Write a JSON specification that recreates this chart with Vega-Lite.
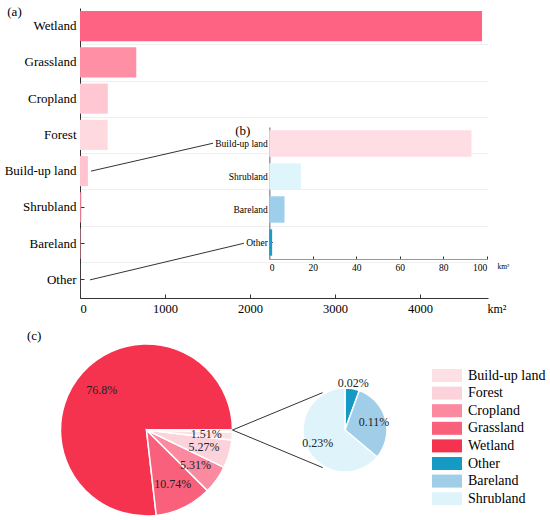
{
  "$schema": "https://vega.github.io/schema/vega-lite/v6.json",
  "description": "Land cover area (a), minor classes inset (b) and shares (c)",
  "width": 550,
  "height": 520,
  "autosize": {"type": "none"},
  "padding": 0,
  "background": "white",
  "config": {
    "font": "Liberation Serif",
    "view": {"stroke": null},
    "axis": {
      "labelFont": "Liberation Serif",
      "titleFont": "Liberation Serif",
      "labelColor": "black",
      "titleColor": "black",
      "titleFontWeight": "normal",
      "domainColor": "#333333",
      "tickColor": "#333333",
      "grid": false
    }
  },
  "title": {
    "text": "(c)",
    "anchor": "start",
    "frame": "group",
    "offset": 0,
    "dx": 27,
    "dy": 349,
    "baseline": "middle",
    "fontSize": 13,
    "fontWeight": "normal",
    "color": "black",
    "font": "Liberation Serif"
  },
  "datasets": {
    "area": [
      {"category": "Wetland", "area_km2": 4730},
      {"category": "Grassland", "area_km2": 662},
      {"category": "Cropland", "area_km2": 327},
      {"category": "Forest", "area_km2": 325},
      {"category": "Build-up land", "area_km2": 93},
      {"category": "Shrubland", "area_km2": 14.5},
      {"category": "Bareland", "area_km2": 7},
      {"category": "Other", "area_km2": 1.3}
    ],
    "share_all": [
      {"category": "Wetland", "share": 76.8, "label": "76.8%"},
      {"category": "Grassland", "share": 10.74, "label": "10.74%"},
      {"category": "Cropland", "share": 5.31, "label": "5.31%"},
      {"category": "Forest", "share": 5.27, "label": "5.27%"},
      {"category": "Build-up land", "share": 1.51, "label": "1.51%"},
      {"category": "Shrubland, Bareland and Other", "share": 0.36, "label": ""}
    ],
    "share_minor": [
      {"category": "Other", "share": 0.02, "label": "0.02%"},
      {"category": "Bareland", "share": 0.11, "label": "0.11%"},
      {"category": "Shrubland", "share": 0.23, "label": "0.23%"}
    ],
    "links_a": [
      {"link": "Build-up land", "from_x": 129, "from_y": 4, "to_x": 1565, "to_y": 3.23},
      {"link": "Other", "from_x": 118, "from_y": 7, "to_x": 1929, "to_y": 5.99}
    ],
    "links_c": [
      {"link": "upper", "from_x": 1, "from_y": 0, "to_x": 2.047, "to_y": 0.434},
      {"link": "lower", "from_x": 1, "from_y": 0, "to_x": 2.05, "to_y": -0.438}
    ]
  },
  "layer": [
    {
      "data": {"name": "links_a"},
      "mark": {"type": "rule", "color": "#333333", "strokeWidth": 1},
      "encoding": {
        "x": {"field": "from_x", "type": "quantitative", "scale": {"domain": [0, 4800], "range": [80, 488], "nice": false, "zero": false}, "axis": null},
        "x2": {"field": "to_x"},
        "y": {
          "field": "from_y", "type": "quantitative",
          "scale": {"domain": [-0.5, 7.5], "range": [8, 298], "nice": false, "zero": false},
          "axis": {"orient": "left", "offset": -80, "grid": true, "gridColor": "#efefef", "gridWidth": 1, "values": [0.5, 1.5, 2.5, 3.5, 4.5, 5.5, 6.5], "domain": false, "ticks": false, "labels": false, "title": null, "zindex": 0}
        },
        "y2": {"field": "to_y"}
      }
    },
    {
      "data": {"name": "area"},
      "mark": {"type": "bar"},
      "encoding": {
        "y": {
          "field": "category", "type": "nominal", "sort": null,
          "scale": {"range": [8, 298], "paddingInner": 0.17, "paddingOuter": 0.085},
          "axis": {"orient": "left", "offset": -80, "labelFont": "Liberation Serif", "labelFontSize": 13, "tickSize": -4, "labelPadding": 8, "title": "(a)", "titleAngle": 0, "titleX": -66, "titleY": 11, "titleAlign": "center", "titleBaseline": "middle", "titleFontSize": 13}
        },
        "x": {
          "field": "area_km2", "type": "quantitative",
          "scale": {"domain": [0, 4800], "range": [80, 488], "nice": false, "zero": false},
          "axis": {"orient": "bottom", "offset": -222, "values": [0, 1000, 2000, 3000, 4000], "format": "d", "labelFont": "Liberation Serif", "labelFontSize": 12.5, "tickSize": -4, "labelPadding": 8, "title": "km²", "titleFontSize": 12, "titleX": 487, "titleY": 10, "titleAlign": "left", "titleBaseline": "middle"}
        },
        "color": {
          "field": "category", "type": "nominal",
          "scale": {
            "domain": ["Wetland", "Grassland", "Cropland", "Forest", "Build-up land", "Shrubland", "Bareland", "Other"],
            "range": ["#ff6384", "#ff8fa5", "#ffc7d1", "#ffd9e0", "#ffc4cf", "#e57b90", "#dd8090", "#dd8090"]
          },
          "legend": null
        }
      }
    },
    {
      "data": {"name": "area"},
      "transform": [{"filter": {"field": "category", "oneOf": ["Build-up land", "Shrubland", "Bareland", "Other"]}}],
      "mark": {"type": "bar"},
      "encoding": {
        "y": {
          "field": "category", "type": "nominal", "sort": null,
          "scale": {"domain": ["Build-up land", "Shrubland", "Bareland", "Other"], "range": [127, 259], "paddingInner": 0.2, "paddingOuter": 0.1},
          "axis": {"orient": "left", "offset": -269.3, "labelFont": "Liberation Serif", "labelFontSize": 9.5, "domainColor": "#999999", "domainWidth": 1.5, "tickSize": -3, "labelPadding": 5, "title": "(b)", "titleAngle": 0, "titleX": -27, "titleY": 130, "titleAlign": "center", "titleBaseline": "middle", "titleFontSize": 13}
        },
        "x": {
          "field": "area_km2", "type": "quantitative",
          "scale": {"domain": [0, 100], "range": [269.3, 486.7], "nice": false, "zero": false},
          "axis": {"orient": "bottom", "offset": -261, "values": [0, 20, 40, 60, 80, 100], "format": "d", "labelFont": "Liberation Serif", "labelFontSize": 9.5, "domainColor": "#999999", "tickSize": -3, "labelPadding": 6, "title": "km²", "titleFontSize": 7.5, "titleX": 497, "titleY": 7, "titleAlign": "left", "titleBaseline": "middle"}
        },
        "color": {
          "field": "category", "type": "nominal",
          "scale": {
            "domain": ["Build-up land", "Shrubland", "Bareland", "Other"],
            "range": ["#ffdde4", "#dff5fc", "#9ecfea", "#1a9bc8"]
          },
          "legend": null
        }
      }
    },
    {
      "data": {"name": "share_all"},
      "encoding": {
        "theta": {"field": "share", "type": "quantitative", "stack": true, "scale": {"range": [1.5708, 7.854]}},
        "order": {"field": "share", "sort": "ascending"},
        "x": {"datum": 0, "type": "quantitative", "scale": {"domain": [-1, 1], "range": [60.5, 232.5], "nice": false, "zero": false}, "axis": null},
        "y": {"datum": 0, "type": "quantitative", "scale": {"domain": [-1, 1], "range": [516, 344], "nice": false, "zero": false}, "axis": null}
      },
      "layer": [
        {
          "mark": {"type": "arc", "outerRadius": 86, "stroke": "white", "strokeWidth": 1.5},
          "encoding": {
            "color": {
              "field": "category", "type": "nominal",
              "scale": {
                "domain": ["Build-up land", "Forest", "Cropland", "Grassland", "Wetland", "Other", "Bareland", "Shrubland", "Shrubland, Bareland and Other"],
                "range": ["#fde0e6", "#fdd3db", "#fb89a0", "#f9607b", "#f6334f", "#159ac6", "#a0cde8", "#dff3fb", "#fdeaee"]
              },
              "legend": {
                "orient": "none", "legendX": 439.5, "legendY": 368, "title": null,
                "values": ["Build-up land", "Forest", "Cropland", "Grassland", "Wetland", "Other", "Bareland", "Shrubland"],
                "symbolType": "M-2,-0.867H2V0.867H-2Z", "symbolSize": 225, "symbolStrokeWidth": 0, "symbolOpacity": 1,
                "labelFontSize": 14, "labelFont": "Liberation Serif", "labelColor": "black", "labelOffset": 13.5, "rowPadding": 2.6
              }
            }
          }
        },
        {
          "mark": {"type": "text", "radius": 60, "fontSize": 12, "align": "center", "baseline": "middle"},
          "encoding": {
            "text": {"field": "label"},
            "detail": {"field": "category"},
            "color": {"value": "#222222"}
          }
        }
      ]
    },
    {
      "data": {"name": "share_minor"},
      "encoding": {
        "theta": {"field": "share", "type": "quantitative", "stack": true},
        "order": {"field": "share", "sort": "ascending"},
        "x": {"datum": 2.308, "type": "quantitative", "scale": {"domain": [-1, 1], "range": [60.5, 232.5], "nice": false, "zero": false}, "axis": null},
        "y": {"datum": 0, "type": "quantitative", "scale": {"domain": [-1, 1], "range": [516, 344], "nice": false, "zero": false}, "axis": null}
      },
      "layer": [
        {
          "mark": {"type": "arc", "outerRadius": 42, "stroke": "white", "strokeWidth": 1.5},
          "encoding": {
            "color": {
              "field": "category", "type": "nominal",
              "scale": {
                "domain": ["Other", "Bareland", "Shrubland"],
                "range": ["#159ac6", "#a0cde8", "#dff3fb"]
              },
              "legend": null
            }
          }
        },
        {
          "mark": {"type": "text", "radius": 30, "fontSize": 12, "align": "center", "baseline": "middle"},
          "encoding": {
            "text": {"condition": {"test": "datum.category === 'Other'", "value": ""}, "field": "label"},
            "detail": {"field": "category"},
            "color": {"value": "#222222"}
          }
        },
        {
          "mark": {"type": "text", "radius": 48, "fontSize": 12, "align": "center", "baseline": "middle"},
          "encoding": {
            "text": {"condition": {"test": "datum.category !== 'Other'", "value": ""}, "field": "label"},
            "detail": {"field": "category"},
            "color": {"value": "#222222"}
          }
        }
      ]
    },
    {
      "data": {"name": "links_c"},
      "mark": {"type": "rule", "color": "#333333", "strokeWidth": 1},
      "encoding": {
        "x": {"field": "from_x", "type": "quantitative", "scale": {"domain": [-1, 1], "range": [60.5, 232.5], "nice": false, "zero": false}, "axis": null},
        "x2": {"field": "to_x"},
        "y": {"field": "from_y", "type": "quantitative", "scale": {"domain": [-1, 1], "range": [516, 344], "nice": false, "zero": false}, "axis": null},
        "y2": {"field": "to_y"}
      }
    }
  ],
  "resolve": {
    "scale": {"x": "independent", "y": "independent", "color": "independent", "theta": "independent"}
  }
}
